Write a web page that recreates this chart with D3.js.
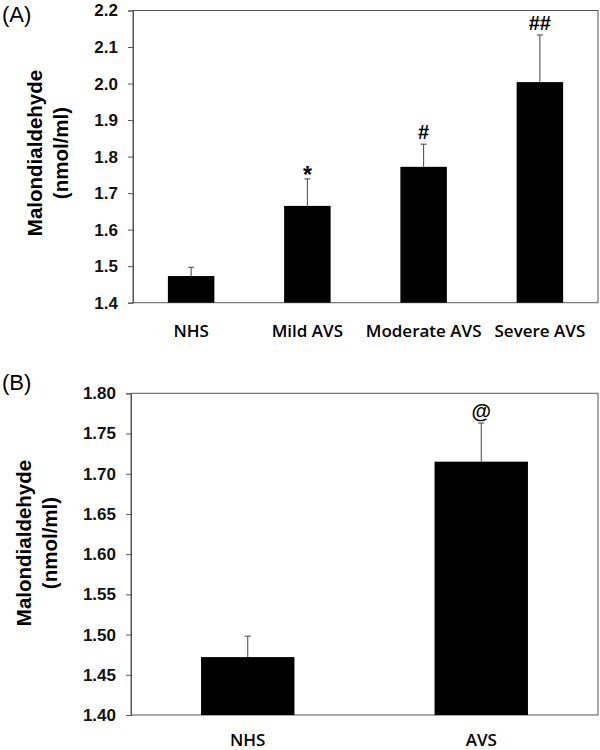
<!DOCTYPE html>
<html>
<head>
<meta charset="utf-8">
<script src="https://cdn.jsdelivr.net/npm/d3@7"></script>
<style>
  body { margin: 0; background: #fff; }
  .tick text { font-family: Arial, "Liberation Sans", sans-serif; font-weight: bold; font-size: 17px; fill: #111; }
</style>
</head>
<body>
<div class="canvas"></div>
<script>
// panel A
var groupsA = ["NHS", "Mild AVS", "Moderate AVS", "Severe AVS"];
var meansA = [1.473, 1.665, 1.772, 2.004];
var errA = [0.024, 0.074, 0.062, 0.129];
var marksA = ["", "*", "#", "##"];
var ticksA = [1.4, 1.5, 1.6, 1.7, 1.8, 1.9, 2.0, 2.1, 2.2];

// panel B
var groupsB = ["NHS", "AVS"];
var meansB = [1.472, 1.715];
var errB = [0.026, 0.048];
var marksB = ["", "@"];
var ticksB = [1.40, 1.45, 1.50, 1.55, 1.60, 1.65, 1.70, 1.75, 1.80];

var svg;

function init() {
    svg = d3.select(".canvas").append("svg")
            .attr("width", 600)
            .attr("height", 750);

    drawPanel({
        tag: "(A)", tagY: 22,
        left: 133, right: 598, top: 10.5, bottom: 302.7,
        groups: groupsA, means: meansA, errs: errA, marks: marksA,
        ticks: ticksA, fmt: ".1f",
        labelY: 337, yLabelX: 42, yLabelY: 153
    });
    drawPanel({
        tag: "(B)", tagY: 390,
        left: 131, right: 598, top: 393.3, bottom: 715,
        groups: groupsB, means: meansB, errs: errB, marks: marksB,
        ticks: ticksB, fmt: ".2f",
        labelY: 746, yLabelX: 31, yLabelY: 543
    });
}

function drawPanel(p) {
    var g = svg.append("g");
    var ticks = p.ticks;

    var x = d3.scaleBand()
              .domain(p.groups)
              .range([p.left, p.right])
              .paddingInner(0.6)
              .paddingOuter(0.3);
    var y = d3.scaleLinear()
              .domain([ticks[0], ticks[ticks.length - 1]])
              .range([p.bottom, p.top]);

    // frame
    g.append("rect")
     .attr("x", p.left)
     .attr("y", p.top)
     .attr("width", p.right - p.left)
     .attr("height", p.bottom - p.top)
     .attr("fill", "none")
     .attr("stroke", "#555");

    // y axis
    var yAxis = g.append("g")
     .attr("transform", "translate(" + p.left + ",0)")
     .call(d3.axisLeft(y).tickValues(ticks).tickFormat(d3.format(p.fmt)).tickSize(5).tickPadding(10));
    yAxis.select(".domain").attr("stroke", "#555");
    yAxis.selectAll(".tick line").attr("stroke", "#555");

    // bars
    g.selectAll(".bar")
     .data(p.means)
     .enter().append("rect")
     .attr("class", "bar")
     .attr("x", function (d, i) { return x(p.groups[i]); })
     .attr("y", function (d) { return y(d); })
     .attr("width", x.bandwidth())
     .attr("height", function (d) { return y(ticks[0]) - y(d); })
     .attr("fill", "#000");

    // upper error whiskers
    p.means.forEach(function (m, i) {
        var cx = x(p.groups[i]) + x.bandwidth() / 2;
        var top = y(m + p.errs[i]);
        g.append("line")
         .attr("x1", cx).attr("x2", cx)
         .attr("y1", y(m)).attr("y2", top)
         .attr("stroke", "#444");
        g.append("line")
         .attr("x1", cx - 3).attr("x2", cx + 3)
         .attr("y1", top).attr("y2", top)
         .attr("stroke", "#444");
        if (p.marks[i]) {
            g.append("text")
             .attr("x", cx)
             .attr("y", top - (p.marks[i] == "*" ? -4 : 5))
             .attr("text-anchor", "middle")
             .style("font-family", "Arial, 'Liberation Sans', sans-serif")
             .style("font-weight", "bold")
             .style("font-size", p.marks[i] == "*" ? "23px" : "20px")
             .text(p.marks[i]);
        }
    });

    // category labels
    g.selectAll(".xlab")
     .data(p.groups)
     .enter().append("text")
     .attr("class", "xlab")
     .attr("x", function (d) { return x(d) + x.bandwidth() / 2; })
     .attr("y", p.labelY)
     .attr("text-anchor", "middle")
     .style("font-family", "'Open Sans', sans-serif")
     .style("font-weight", "600")
     .style("font-size", "17px")
     .text(function (d) { return d; });

    // y title, two lines
    var yl = g.append("text")
     .attr("transform", "translate(" + p.yLabelX + "," + p.yLabelY + ") rotate(-90)")
     .attr("text-anchor", "middle")
     .style("font-family", "Arial, 'Liberation Sans', sans-serif")
     .style("font-weight", "bold")
     .style("font-size", "20.5px");
    yl.append("tspan").attr("x", 0).attr("y", 0).text("Malondialdehyde");
    yl.append("tspan").attr("x", 0).attr("y", 26).text("(nmol/ml)");

    // panel tag
    g.append("text")
     .attr("x", 2)
     .attr("y", p.tagY)
     .style("font-family", "Arial, 'Liberation Sans', sans-serif")
     .style("font-size", "22px")
     .text(p.tag);
}

init();
</script>
</body>
</html>
